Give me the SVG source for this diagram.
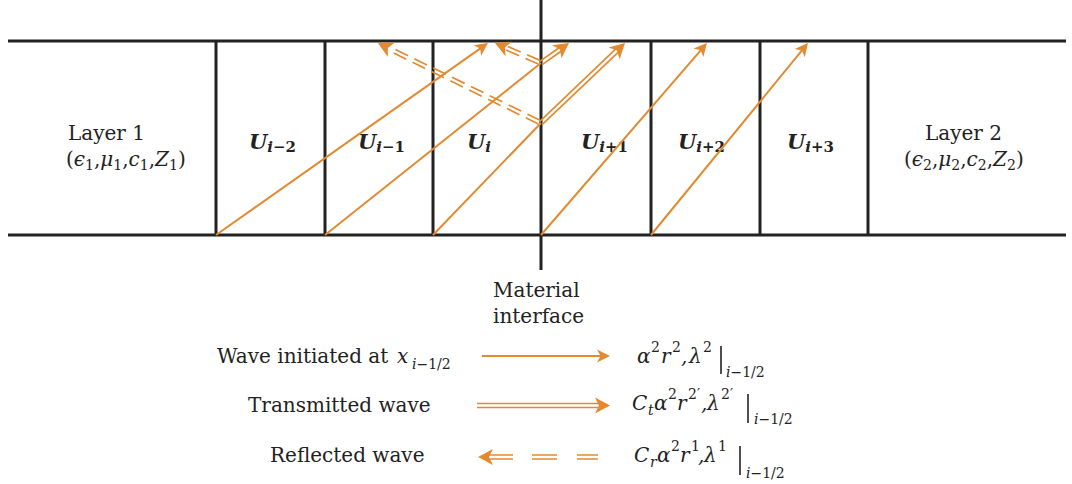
<svg xmlns="http://www.w3.org/2000/svg" xmlns:xlink="http://www.w3.org/1999/xlink" width="1072" height="484" viewBox="0 0 1072 484">
<style>
.blk{stroke:#222;stroke-width:3;fill:none}
.or{stroke:#E38A31;stroke-width:2;fill:none}
.or2{stroke:#E38A31;stroke-width:1.7;fill:none}
.dash{stroke:#E38A31;stroke-width:1.7;fill:none;stroke-dasharray:14 7}
.hd{fill:#E38A31}
.t{font-family:"DejaVu Serif","Liberation Serif",serif;font-size:20px;fill:#222}
.m{font-style:italic}
.u{font-family:"DejaVu Serif","Liberation Serif",serif;font-size:21px;font-weight:bold;font-style:italic;fill:#222}
.s{font-size:14px}
.us{font-size:15px}
.bar{stroke:#222;stroke-width:1.6}
</style>
<defs>
<marker id="ah" markerUnits="userSpaceOnUse" markerWidth="16" markerHeight="16" viewBox="-16 -8 16 16" refX="-5" refY="0" orient="auto">
<path d="M0,0 L-13,-6.5 L-9.5,0 L-13,6.5 Z" fill="#E38A31"/>
</marker>
<path id="hd2" class="hd" d="M0,0 L-15,-8 L-11,0 L-15,8 Z"/>
</defs>

<g id="layer-boundaries">
<line class="blk" x1="8" y1="41" x2="1066" y2="41"/>
<line class="blk" x1="8" y1="235" x2="1066" y2="235"/>
</g>

<g id="layer1">
<text class="t" x="68" y="140">Layer 1</text>
<text class="t" x="66" y="166">(<tspan class="m">ϵ</tspan><tspan class="s" dy="4">1</tspan><tspan dy="-4">,</tspan><tspan class="m">μ</tspan><tspan class="s" dy="4">1</tspan><tspan dy="-4">,</tspan><tspan class="m">c</tspan><tspan class="s" dy="4">1</tspan><tspan dy="-4">,</tspan><tspan class="m">Z</tspan><tspan class="s" dy="4">1</tspan><tspan dy="-4">)</tspan></text>
</g>

<g id="layer2">
<text class="t" x="925" y="140">Layer 2</text>
<text class="t" x="904" y="166">(<tspan class="m">ϵ</tspan><tspan class="s" dy="4">2</tspan><tspan dy="-4">,</tspan><tspan class="m">μ</tspan><tspan class="s" dy="4">2</tspan><tspan dy="-4">,</tspan><tspan class="m">c</tspan><tspan class="s" dy="4">2</tspan><tspan dy="-4">,</tspan><tspan class="m">Z</tspan><tspan class="s" dy="4">2</tspan><tspan dy="-4">)</tspan></text>
</g>

<g id="cell-i-2">
<line class="blk" x1="216" y1="41" x2="216" y2="235"/>
<text class="u" x="249" y="149">U<tspan class="us" dy="3">i</tspan><tspan class="us" font-style="normal">−2</tspan></text>
</g>
<g id="cell-i-1">
<line class="blk" x1="325" y1="41" x2="325" y2="235"/>
<text class="u" x="358" y="149">U<tspan class="us" dy="3">i</tspan><tspan class="us" font-style="normal">−1</tspan></text>
</g>
<g id="cell-i">
<line class="blk" x1="433" y1="41" x2="433" y2="235"/>
<text class="u" x="467" y="149">U<tspan class="us" dy="3">i</tspan></text>
</g>
<g id="interface">
<line class="blk" x1="541" y1="0" x2="541" y2="270"/>
<text class="t" x="493" y="297">Material</text>
<text class="t" x="493" y="323">interface</text>
</g>
<g id="cell-i+1">
<text class="u" x="581" y="149">U<tspan class="us" dy="3">i</tspan><tspan class="us" font-style="normal">+1</tspan></text>
</g>
<g id="cell-i+2">
<line class="blk" x1="651" y1="41" x2="651" y2="235"/>
<text class="u" x="678" y="149">U<tspan class="us" dy="3">i</tspan><tspan class="us" font-style="normal">+2</tspan></text>
</g>
<g id="cell-i+3">
<line class="blk" x1="760" y1="41" x2="760" y2="235"/>
<line class="blk" x1="868" y1="41" x2="868" y2="235"/>
<text class="u" x="787" y="149">U<tspan class="us" dy="3">i</tspan><tspan class="us" font-style="normal">+3</tspan></text>
</g>

<g id="connectors">
<line class="or" x1="216" y1="235" x2="483.9" y2="45.9" marker-end="url(#ah)"/>
<line class="or" x1="325" y1="235" x2="541" y2="63"/>
<line class="or" x1="433" y1="235" x2="541" y2="123"/>
<line class="or" x1="541" y1="235" x2="703.7" y2="46.8" marker-end="url(#ah)"/>
<line class="or" x1="651" y1="235" x2="804.8" y2="46.9" marker-end="url(#ah)"/>
<g transform="translate(541,63) rotate(-35.5)">
<line class="or2" x1="0" y1="-2" x2="24" y2="-2"/><line class="or2" x1="0" y1="2" x2="24" y2="2"/>
<use xlink:href="#hd2" x="34.4" y="0"/>
</g>
<g transform="translate(541,123) rotate(-43.6)">
<line class="or2" x1="0" y1="-2" x2="106" y2="-2"/><line class="or2" x1="0" y1="2" x2="106" y2="2"/>
<use xlink:href="#hd2" x="116" y="0"/>
</g>
<g transform="translate(541,63) rotate(-156.5)">
<line class="dash" x1="2" y1="-2" x2="40" y2="-2"/><line class="dash" x1="2" y1="2" x2="40" y2="2"/>
<use xlink:href="#hd2" x="50.2" y="0"/>
</g>
<g transform="translate(541,123) rotate(-153.9)">
<line class="dash" x1="2" y1="-2" x2="171" y2="-2"/><line class="dash" x1="2" y1="2" x2="171" y2="2"/>
<use xlink:href="#hd2" x="181.6" y="0"/>
</g>
</g>

<g id="legend-initiated">
<text class="t" x="217" y="363">Wave initiated at <tspan class="m" x="397">x</tspan><tspan class="s m" x="412" y="369">i</tspan><tspan class="s">−1/2</tspan></text>
<line class="or" x1="482" y1="356" x2="605" y2="356" marker-end="url(#ah)"/>
<text class="t m" y="363"><tspan x="637">α</tspan><tspan class="s" font-style="normal" x="651" y="352">2</tspan><tspan x="661" y="363">r</tspan><tspan class="s" font-style="normal" x="672" y="352">2</tspan><tspan x="681" y="363">,</tspan><tspan x="689">λ</tspan><tspan class="s" font-style="normal" x="703" y="352">2</tspan></text>
<line class="bar" x1="721" y1="346" x2="721" y2="374"/>
<text class="t m s" x="726" y="377">i<tspan font-style="normal">−1/2</tspan></text>
</g>

<g id="legend-transmitted">
<text class="t" x="248" y="412">Transmitted wave</text>
<line class="or2" x1="477" y1="403.5" x2="599" y2="403.5"/>
<line class="or2" x1="477" y1="407.5" x2="599" y2="407.5"/>
<use xlink:href="#hd2" x="610" y="405.5"/>
<text class="t m" y="410"><tspan x="632">C</tspan><tspan class="s" x="648" y="415">t</tspan><tspan x="654" y="410">α</tspan><tspan class="s" font-style="normal" x="668" y="399">2</tspan><tspan x="677" y="410">r</tspan><tspan class="s" font-style="normal" x="688" y="399">2′</tspan><tspan x="701" y="410">,</tspan><tspan x="707">λ</tspan><tspan class="s" font-style="normal" x="721" y="399">2′</tspan></text>
<line class="bar" x1="748" y1="394" x2="748" y2="423"/>
<text class="t m s" x="754" y="424">i<tspan font-style="normal">−1/2</tspan></text>
</g>

<g id="legend-reflected">
<text class="t" x="270" y="462">Reflected wave</text>
<path class="or2" d="M598,455 H577 M557,455 H532 M513,455 H488 M598,459 H577 M557,459 H532 M513,459 H488"/>
<use xlink:href="#hd2" transform="translate(478,457) rotate(180)"/>
<text class="t m" y="462"><tspan x="634">C</tspan><tspan class="s" x="650" y="467">r</tspan><tspan x="657" y="462">α</tspan><tspan class="s" font-style="normal" x="671" y="451">2</tspan><tspan x="680" y="462">r</tspan><tspan class="s" font-style="normal" x="691" y="451">1</tspan><tspan x="698" y="462">,</tspan><tspan x="704">λ</tspan><tspan class="s" font-style="normal" x="718" y="451">1</tspan></text>
<line class="bar" x1="740" y1="446" x2="740" y2="475"/>
<text class="t m s" x="746" y="478">i<tspan font-style="normal">−1/2</tspan></text>
</g>
</svg>
